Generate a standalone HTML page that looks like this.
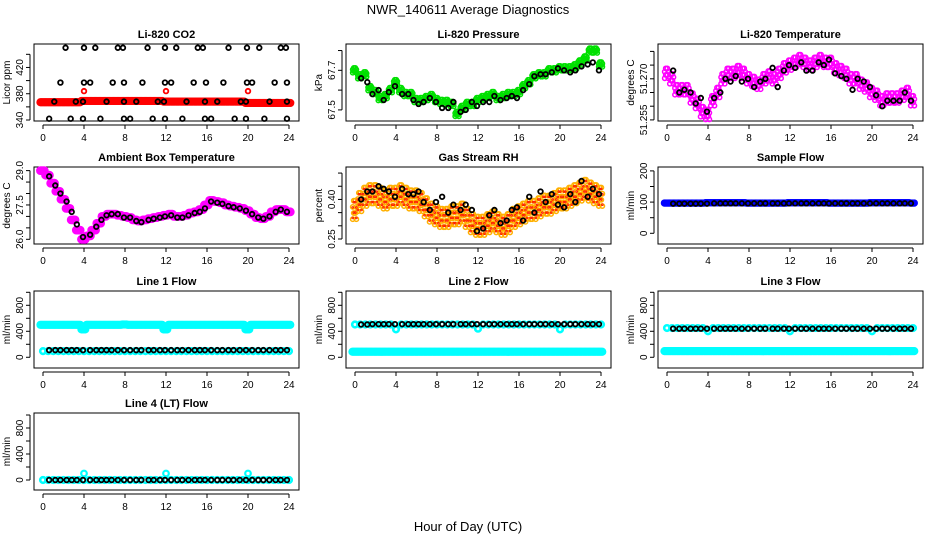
<!DOCTYPE html>
<html><head><meta charset="utf-8"><style>
body{margin:0;background:#fff}
svg{display:block;font-family:"Liberation Sans",sans-serif}
</style></head><body>
<svg id="c" width="936" height="540" viewBox="0 0 936 540">
<text x="468" y="14" text-anchor="middle" font-size="13">NWR_140611  Average Diagnostics</text>
<text x="468" y="531" text-anchor="middle" font-size="13">Hour of Day (UTC)</text>
</svg>
<script>
const T = [0,0.5,1,1.5,2,2.5,3,3.5,4,4.5,5,5.5,6,6.5,7,7.5,8,8.5,9,9.5,10,10.5,11,11.5,12,12.5,13,13.5,14,14.5,15,15.5,16,16.5,17,17.5,18,18.5,19,19.5,20,20.5,21,21.5,22,22.5,23,23.5,24];
const TB = [0.6,1.2,1.7,2.3,2.8,3.3,3.9,4.6,5.2,5.7,6.2,6.7,7.3,7.9,8.5,9.1,9.6,10.3,10.8,11.4,11.9,12.5,13.1,13.6,14.2,14.8,15.3,15.8,16.4,17,17.5,18.1,18.6,19.2,19.8,20.4,21,21.5,22.1,22.7,23.2,23.8];
const OUT_T = [4,12,20];

const co2Red = [367,367,367,367,367,367,367,367,369,369,369,369,369,369,369,369,369,369,369,369,369,369,369,369,368,368,368,368,368,368,368,368,368,368,368,368,368,368,368,368,366,366,366,366,366,366,366,366,366];
const co2RedOut = [384,384,384];
const co2BlackT = [2.2,4,5.1,7.3,7.8,10.2,11.9,13,15.1,15.6,18.1,19.9,21.1,23.2,23.7, 1.7,4,4.6,6.8,7.9,9.7,11.9,12.5,14.7,15.9,17.6,19.9,20.4,22.6,23.8, 1.1,3.2,3.9,6.2,7.9,9.1,11.2,11.8,14,15.8,17,19.3,19.8,22.1,23.8, 0.6,2.7,3.9,5.6,7.9,8.5,10.7,11.9,13.6,15.8,16.4,18.7,19.8,21.6,23.8];
const co2BlackV = [450,450,450,450,450,450,450,450,450,450,450,450,450,450,450, 397,397,397,397,397,397,397,397,397,397,397,397,397,397,397, 368,368,368,368,368,368,368,368,368,368,368,368,368,368,368, 342,342,342,342,342,342,342,342,342,342,342,342,342,342,342];

const presGreen = [67.70,67.67,67.68,67.61,67.59,67.56,67.57,67.60,67.64,67.60,67.58,67.58,67.55,67.55,67.56,67.57,67.55,67.54,67.54,67.53,67.48,67.51,67.53,67.53,67.55,67.56,67.57,67.58,67.56,67.57,67.58,67.58,67.59,67.62,67.64,67.67,67.68,67.68,67.70,67.70,67.71,67.71,67.71,67.72,67.74,67.76,67.80,67.80,67.73];
const presBlack = [67.66,67.64,67.58,67.6,67.55,67.59,67.62,67.58,67.58,67.55,67.53,67.54,67.56,67.54,67.51,67.51,67.54,67.49,67.5,67.54,67.52,67.54,67.54,67.57,67.55,67.56,67.57,67.56,67.6,67.63,67.67,67.68,67.68,67.69,67.71,67.7,67.69,67.7,67.72,67.73,67.74,67.7];

const tempMag = [51.272,51.270,51.266,51.266,51.266,51.263,51.261,51.258,51.257,51.262,51.265,51.270,51.272,51.272,51.273,51.272,51.270,51.269,51.268,51.270,51.271,51.270,51.272,51.274,51.275,51.276,51.277,51.276,51.275,51.276,51.277,51.276,51.276,51.274,51.273,51.272,51.270,51.270,51.268,51.267,51.265,51.264,51.262,51.263,51.263,51.263,51.264,51.265,51.262];
const tempBlack = [51.273,51.265,51.266,51.265,51.261,51.263,51.258,51.263,51.265,51.270,51.269,51.271,51.269,51.270,51.267,51.269,51.270,51.274,51.267,51.273,51.275,51.274,51.276,51.273,51.273,51.276,51.275,51.277,51.272,51.271,51.270,51.266,51.270,51.269,51.267,51.264,51.260,51.262,51.262,51.262,51.265,51.262];

const ambMag = [29.0,28.8,28.45,28.1,27.75,27.35,26.85,26.4,26.0,26.15,26.4,26.7,27.0,27.1,27.1,27.05,27.0,26.95,26.85,26.8,26.85,26.9,26.95,27.0,27.05,27.1,27.0,27.0,27.05,27.15,27.2,27.3,27.5,27.7,27.65,27.6,27.5,27.45,27.4,27.35,27.25,27.1,26.95,26.9,27.0,27.2,27.3,27.3,27.2];
const ambBlack = [28.75,28.35,28.0,27.65,27.2,26.65,26.1,26.2,26.55,26.85,27.05,27.1,27.1,26.95,26.95,26.8,26.75,26.85,26.9,26.95,27.0,27.05,26.95,26.95,27.05,27.15,27.2,27.35,27.65,27.6,27.55,27.45,27.4,27.35,27.25,27.1,26.95,26.9,27.0,27.2,27.3,27.2];

const rhOrange = [0.36,0.39,0.41,0.42,0.42,0.41,0.40,0.41,0.41,0.42,0.41,0.40,0.40,0.39,0.37,0.35,0.34,0.33,0.33,0.34,0.34,0.35,0.33,0.31,0.30,0.30,0.31,0.32,0.31,0.30,0.31,0.33,0.34,0.35,0.36,0.36,0.37,0.38,0.38,0.39,0.40,0.40,0.41,0.42,0.43,0.44,0.43,0.42,0.41];
const rhBlack = [0.40,0.43,0.43,0.45,0.44,0.43,0.41,0.44,0.42,0.42,0.43,0.39,0.36,0.39,0.41,0.35,0.38,0.36,0.38,0.36,0.28,0.29,0.34,0.36,0.31,0.32,0.36,0.37,0.32,0.41,0.35,0.43,0.39,0.42,0.38,0.37,0.42,0.39,0.47,0.41,0.44,0.42];

const sampleBlue = [97,97,97,97,97,97,97,97,98,98,98,98,98,98,98,98,97,97,97,97,97,97,97,97,98,98,98,98,98,98,98,98,97,97,97,97,97,97,97,97,98,98,98,98,98,98,98,98,97];
const sampleBlack = [95,95,95,95,95,95,95,96,96,96,96,96,96,96,96,96,96,96,96,96,96,96,96,96,96,96,96,96,96,96,96,96,96,96,96,96,96,96,96,96,96,96];

const l1CyanHi = [500,500,500,500,500,500,500,500,430,500,500,500,500,500,500,500,505,500,500,500,500,500,500,500,430,500,500,500,500,500,500,500,500,500,500,500,500,500,500,500,430,500,500,500,500,500,500,500,500];
const l1CyanLo = [95,95,95,95,95,95,95,95,95,95,95,95,95,95,95,95,95,95,95,95,95,95,95,95,95,95,95,95,95,95,95,95,95,95,95,95,95,95,95,95,95,95,95,95,95,95,95,95,95];
const l1Black = [110,110,110,110,110,110,110,110,110,110,110,110,110,110,110,110,110,110,110,110,110,110,110,110,110,110,110,110,110,110,110,110,110,110,110,110,110,110,110,110,110,110];

const l2CyanHi = [505,505,505,505,505,505,505,505,430,505,505,505,505,505,505,505,505,505,505,505,505,505,505,505,440,505,505,505,505,505,505,505,505,505,505,505,505,505,505,505,430,505,505,505,505,505,505,505,505];
const l2CyanLo = [85,85,85,85,85,85,85,85,85,85,85,85,85,85,85,85,85,85,85,85,85,85,85,85,85,85,85,85,85,85,85,85,85,85,85,85,85,85,85,85,85,85,85,85,85,85,85,85,85];
const l2Black = [505,505,510,510,510,510,510,510,510,510,510,510,510,510,510,510,510,510,510,510,510,510,510,510,510,510,510,510,510,510,510,510,510,510,510,510,510,510,510,510,510,510];

const l3CyanHi = [450,450,450,450,450,450,450,450,400,450,450,450,450,450,450,450,450,450,450,450,450,450,450,450,400,450,450,450,450,450,450,450,450,450,450,450,450,450,450,450,400,450,450,450,450,450,450,450,450];
const l3CyanLo = [95,95,95,95,95,95,95,95,95,95,95,95,95,95,95,95,95,95,95,95,95,95,95,95,95,95,95,95,95,95,95,95,95,95,95,95,95,95,95,95,95,95,95,95,95,95,95,95,95];
const l3Black = [440,440,440,440,440,440,440,440,440,440,440,440,440,440,440,440,440,440,440,440,440,440,440,440,440,440,440,440,440,440,440,440,440,440,440,440,440,440,440,440,440,440];

const l4Cyan = [0,0,0,0,0,0,0,0,0,0,0,0,0,0,0,0,0,0,0,0,0,0,0,0,0,0,0,0,0,0,0,0,0,0,0,0,0,0,0,0,0,0,0,0,0,0,0,0,0];
const l4CyanOut = [100,100,100];
const l4Black = [0,0,0,0,0,0,0,0,0,0,0,0,0,0,0,0,0,0,0,0,0,0,0,0,0,0,0,0,0,0,0,0,0,0,0,0,0,0,0,0,0,0];

const xTicks = [0,4,8,12,16,20,24];
const co2Ticks = [340,360,380,400,420,440], co2Labels = [340,380,420];
const presTicks = [67.5,67.6,67.7,67.8], presLabels = [67.5,67.7];
const tempTicks = [51.255,51.260,51.265,51.270,51.275,51.280], tempLabels = [51.255,51.270];
const ambTicks = [26,26.5,27,27.5,28,28.5,29], ambLabels = [26,27.5,29];
const rhTicks = [0.25,0.30,0.35,0.40,0.45,0.50], rhLabels = [0.25,0.40];
const sfTicks = [0,50,100,150,200], sfLabels = [0,100,200];
const flowTicks = [0,200,400,600,800,1000], flowLabels = [0,400,800];

const NS = 'http://www.w3.org/2000/svg';
const svg = document.getElementById('c');
function mk(tag, attrs, parent) {
  const e = document.createElementNS(NS, tag);
  for (const k in attrs) e.setAttribute(k, attrs[k]);
  (parent || svg).appendChild(e);
  return e;
}
const colX = [34, 346, 658], rowY = [44, 167, 291, 413], W = 265, H = 77;

function panel(col, row, title, name, ylab, ymin, ymax, ticks, labels, fmt, series) {
  const L = colX[col], Tp = rowY[row];
  const g = mk('g', {});
  
  
  const xs = v => L + 9 + v / 24 * 246;
  const ys = v => Tp + H - (v - ymin) / (ymax - ymin) * H;
  const box = mk('rect', {x: L, y: Tp, width: W, height: H, fill: 'none', stroke: '#000', 'stroke-width': 1}, g);
  
  
  const tt = mk('text', {x: L + W / 2, y: Tp - 6, 'text-anchor': 'middle', 'font-size': 11, 'font-weight': 'bold'}, g);
  tt.textContent = title;
  
  
  const xa = mk('g', {}, g);
  
  
  mk('line', {x1: xs(0), x2: xs(24), y1: Tp + H + 4, y2: Tp + H + 4, stroke: '#000'}, xa);
  xTicks.forEach(t => {
    mk('line', {x1: xs(t), x2: xs(t), y1: Tp + H + 4, y2: Tp + H + 8, stroke: '#000'}, xa);
    const lt = mk('text', {x: xs(t), y: Tp + H + 20, 'text-anchor': 'middle', 'font-size': 10}, xa);
    lt.textContent = t;
    
    
  });
  const ya = mk('g', {}, g);
  
  
  mk('line', {x1: L - 4, x2: L - 4, y1: ys(ticks[0]), y2: ys(ticks[ticks.length - 1]), stroke: '#000'}, ya);
  ticks.forEach(t => mk('line', {x1: L - 8, x2: L - 4, y1: ys(t), y2: ys(t), stroke: '#000'}, ya));
  labels.forEach(t => {
    const yy = ys(t);
    const lt = mk('text', {x: L - 11, y: yy, 'text-anchor': 'middle', 'font-size': 10, transform: `rotate(-90 ${L - 11} ${yy})`}, ya);
    lt.textContent = fmt(t);
    
    
  });
  const yl = mk('text', {x: L - 24, y: Tp + H / 2, 'text-anchor': 'middle', 'font-size': 10, transform: `rotate(-90 ${L - 24} ${Tp + H / 2})`}, ya);
  yl.textContent = ylab;
  
  
  series.forEach(s => {
    const sg = mk('g', {}, g);
    
    
    const dts = s.dense ? [-0.25, -0.125, 0, 0.125] : (s.spread ? [-0.17, 0.08] : [0]);
    const dvs = s.spread ? [-1, -0.33, 0.33, 1] : [0];
    s.v.forEach((v, i) => {
      dts.forEach((dt, j) => {
        dvs.forEach((dv, k) => {
          const jt = s.spread ? dt + ((k + j) % 2 ? 0.05 : -0.05) : dt;
          const c = mk('circle', {cx: xs(s.t[i] + jt), cy: ys(v + dv * (s.spread || 0)), r: s.r || 2.3, fill: 'none', stroke: s.c, 'stroke-width': s.sw || 1.8}, sg);
          
          
        });
      });
    });
  });
}
const f0 = v => String(v), f1 = v => v.toFixed(1), f2 = v => v.toFixed(2), f3 = v => v.toFixed(3);

panel(0, 0, 'Li-820 CO2', 'co2', 'Licor ppm', 338.5, 455.7, co2Ticks, co2Labels, f0, [
  {name: 'red-series', t: T, v: co2Red, c: '#ff0000', r: 2.8, sw: 2.6, dense: true},
  {name: 'red-outliers', t: OUT_T, v: co2RedOut, c: '#ff0000'},
  {name: 'black-series', t: co2BlackT, v: co2BlackV, c: '#000'}]);
panel(1, 0, 'Li-820 Pressure', 'pressure', 'kPa', 67.444, 67.833, presTicks, presLabels, f1, [
  {name: 'green-series', t: T, v: presGreen, c: '#00e000', r: 2.2, sw: 1.5, spread: 0.012},
  {name: 'black-series', t: TB, v: presBlack, c: '#000'}]);
panel(2, 0, 'Li-820 Temperature', 'li820-temperature', 'degrees C', 51.2546, 51.2827, tempTicks, tempLabels, f3, [
  {name: 'magenta-series', t: T, v: tempMag, c: '#ff00ff', r: 2.2, sw: 1.5, spread: 0.0018},
  {name: 'black-series', t: TB, v: tempBlack, c: '#000'}]);
panel(0, 1, 'Ambient Box Temperature', 'ambient-temperature', 'degrees C', 25.795, 29.158, ambTicks, ambLabels, f1, [
  {name: 'magenta-series', t: T, v: ambMag, c: '#ff00ff', r: 3, sw: 2.8, dense: true},
  {name: 'black-series', t: TB, v: ambBlack, c: '#000'}]);
panel(1, 1, 'Gas Stream RH', 'gas-stream-rh', 'percent', 0.231, 0.523, rhTicks, rhLabels, f2, [
  {name: 'orange-series', t: T, v: rhOrange, c: '#ffb000', r: 2.2, sw: 1.5, spread: 0.035},
  {name: 'red-series', t: T, v: rhOrange, c: '#ff2000', r: 0.8, sw: 1, spread: 0.03},
  {name: 'black-series', t: TB, v: rhBlack, c: '#000'}]);
panel(2, 1, 'Sample Flow', 'sample-flow', 'ml/min', -34.3, 212.5, sfTicks, sfLabels, f0, [
  {name: 'blue-series', t: T, v: sampleBlue, c: '#0000ff', r: 2.6, sw: 2.2, dense: true},
  {name: 'black-series', t: TB, v: sampleBlack, c: '#000'}]);
panel(0, 2, 'Line 1 Flow', 'line1-flow', 'ml/min', -165, 1020, flowTicks, flowLabels, f0, [
  {name: 'cyan-high-series', t: T, v: l1CyanHi, c: '#00ffff', r: 2.8, sw: 2.6, dense: true},
  {name: 'cyan-low-series', t: T, v: l1CyanLo, c: '#00ffff', r: 2.8, sw: 2.6},
  {name: 'black-series', t: TB, v: l1Black, c: '#000'}]);
panel(1, 2, 'Line 2 Flow', 'line2-flow', 'ml/min', -165, 1020, flowTicks, flowLabels, f0, [
  {name: 'cyan-high-series', t: T, v: l2CyanHi, c: '#00ffff', r: 2.8, sw: 2.6},
  {name: 'cyan-low-series', t: T, v: l2CyanLo, c: '#00ffff', r: 2.8, sw: 2.6, dense: true},
  {name: 'black-series', t: TB, v: l2Black, c: '#000'}]);
panel(2, 2, 'Line 3 Flow', 'line3-flow', 'ml/min', -165, 1020, flowTicks, flowLabels, f0, [
  {name: 'cyan-high-series', t: T, v: l3CyanHi, c: '#00ffff', r: 2.8, sw: 2.6},
  {name: 'cyan-low-series', t: T, v: l3CyanLo, c: '#00ffff', r: 2.8, sw: 2.6, dense: true},
  {name: 'black-series', t: TB, v: l3Black, c: '#000'}]);
panel(0, 3, 'Line 4 (LT) Flow', 'line4-flow', 'ml/min', -154, 1031, flowTicks, flowLabels, f0, [
  {name: 'cyan-series', t: T, v: l4Cyan, c: '#00ffff', r: 2.8, sw: 2.6},
  {name: 'cyan-outliers', t: OUT_T, v: l4CyanOut, c: '#00ffff', r: 2.8, sw: 2.2},
  {name: 'black-series', t: TB, v: l4Black, c: '#000'}]);
</script>
</body></html>
